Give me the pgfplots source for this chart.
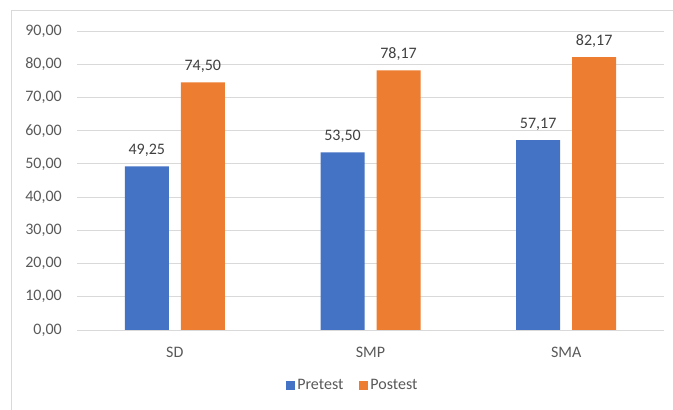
\documentclass[border=0pt]{standalone}
\usepackage{fontspec}
\setmainfont{Carlito}
\usepackage{pgfplots}
\pgfplotsset{compat=1.18}

\definecolor{pre}{HTML}{4472C4}
\definecolor{post}{HTML}{ED7D31}
\definecolor{gridc}{HTML}{D9D9D9}
\definecolor{tickc}{HTML}{595959}
\definecolor{labc}{HTML}{404040}

\begin{document}
\begin{tikzpicture}[x=1pt,y=1pt]
\useasboundingbox (0,0) rectangle (673,410);
\clip (0,0) rectangle (673,410);
% chart frame, cut at right and bottom
\draw[gridc, line width=1pt] (11,-20) rectangle (700,399);

\begin{axis}[
    at={(77pt,80pt)}, anchor=south west,
    scale only axis,
    width=587pt, height=299pt,
    ybar=12pt, bar width=44pt,
    xmin=-0.5, xmax=2.5,
    ymin=0, ymax=90,
    xtick=data,
    xticklabels={SD,SMP,SMA},
    ytick={0,10,...,90},
    axis line style={draw=none},
    major tick length=0pt,
    ymajorgrids=true,
    grid style={gridc, line width=0.9pt},
    font=\fontsize{16}{19}\selectfont,
    /pgf/number format/.cd, fixed, fixed zerofill, precision=2, use comma, assume math mode=true,
    /pgfplots/.cd,
    yticklabel style={text=tickc, anchor=east, inner sep=0pt, xshift=-15pt},
    xticklabel style={text=tickc, anchor=north, inner sep=0pt, yshift=-17pt},
    nodes near coords,
    every node near coord/.append style={text=labc, font=\fontsize{16}{19}\selectfont, yshift=6pt},
    legend style={at={(0.47,-0.184)}, anchor=center, draw=none, fill=none,
        legend columns=2, text=tickc, font=\fontsize{16}{19}\selectfont,
        /tikz/every odd column/.append style={column sep=0pt},
        /tikz/every even column/.append style={column sep=14pt}},
    legend image code/.code={\fill[#1] (0pt,-4.5pt) rectangle (9pt,4.5pt);},
]
\addplot[fill=pre, draw=none] coordinates {(0,49.25) (1,53.50) (2,57.17)};
\addplot[fill=post, draw=none] coordinates {(0,74.50) (1,78.17) (2,82.17)};
\legend{Pretest,Postest}
\end{axis}
\end{tikzpicture}
\end{document}
